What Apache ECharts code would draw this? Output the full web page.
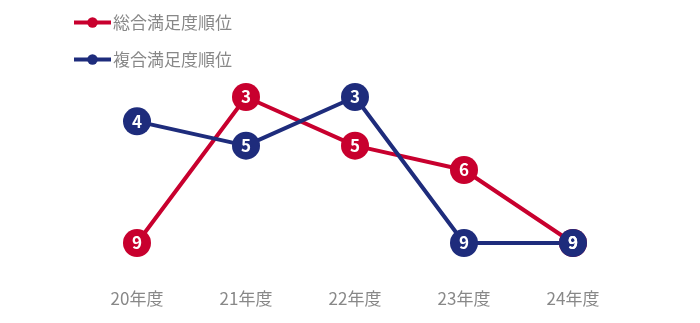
<!DOCTYPE html>
<html><head><meta charset="utf-8">
<script src="https://cdn.jsdelivr.net/npm/echarts@6/dist/echarts.min.js"></script>
<style>html,body{margin:0;padding:0;background:#fff}#c{width:700px;height:323px}</style>
</head><body><div id="c"></div>
<script>
const categories = ['20年度','21年度','22年度','23年度','24年度'];
const seriesNames = ['総合満足度順位','複合満足度順位'];
const sogoValues = [9,3,5,6,9];
const fukugoValues = [4,5,3,9,9];
const colors = ['#c8002e','#1e2c7c'];
const FONT = '"Noto Sans CJK JP", "Noto Sans", sans-serif';
const chart = echarts.init(document.getElementById('c'));
function mk(name, data, color){
  return {
    name, type:'line', data,
    symbol:'circle', symbolSize:28,
    lineStyle:{color, width:4},
    itemStyle:{color},
    label:{show:true, position:'inside', color:'#fff', fontWeight:'bold', fontSize:17, fontFamily:FONT},
    emphasis:{disabled:true},
    clip:false
  };
}
chart.setOption({
  animation:false,
  legend:{
    orient:'vertical', left:67, top:9, itemGap:20, itemWidth:37, itemHeight:13,
    lineStyle:{width:4},
    textStyle:{color:'#888', fontSize:17, fontFamily:FONT, padding:[0,0,0,-3]},
    data:seriesNames
  },
  grid:{left:82.5, right:72.5, top:97, bottom:80},
  xAxis:{type:'category', data:categories, boundaryGap:true,
    axisLine:{show:false}, axisTick:{show:false},
    axisLabel:{color:'#888', fontSize:17, fontFamily:FONT, margin:47}},
  yAxis:{type:'value', inverse:true, min:3, max:9, show:false, splitLine:{show:false}},
  series:[mk(seriesNames[0], sogoValues, colors[0]), mk(seriesNames[1], fukugoValues, colors[1])]
});
</script></body></html>
